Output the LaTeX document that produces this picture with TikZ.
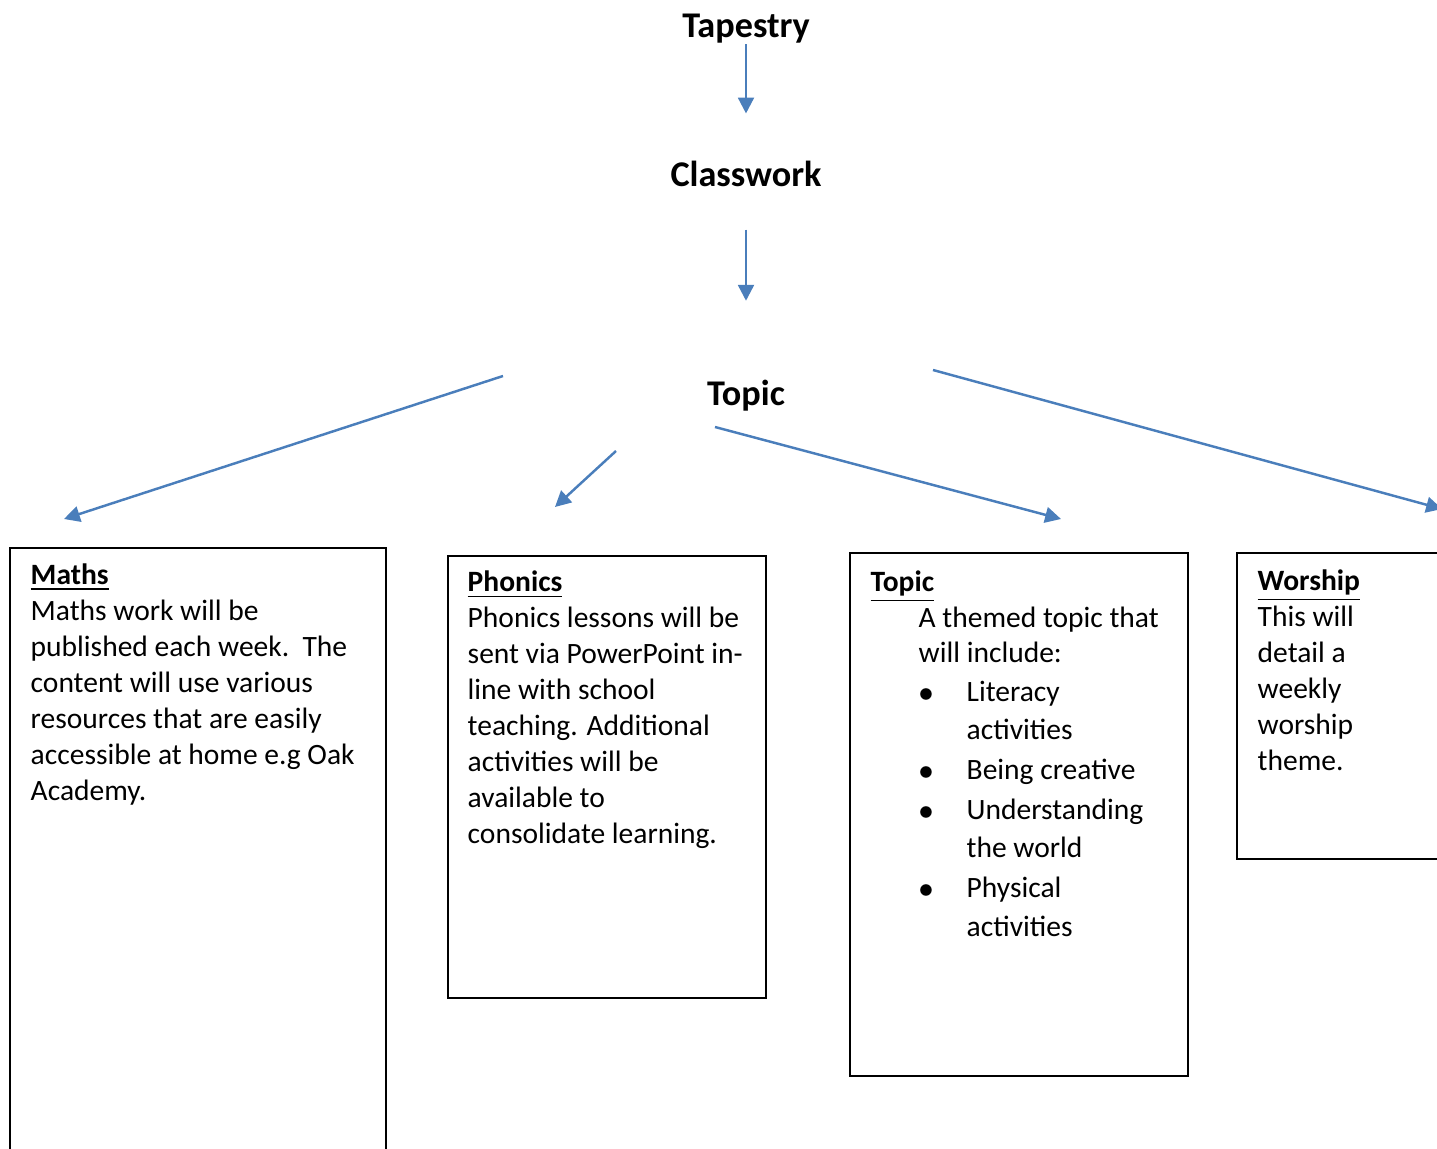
\documentclass[tikz,border=0pt]{standalone}
\usepackage{fontspec}
\setmainfont{Carlito}
\usetikzlibrary{arrows.meta,positioning}
\definecolor{arrblue}{RGB}{74,126,187}

\begin{document}
\begin{tikzpicture}[title/.style={font=\fontsize{10.3}{12}\selectfont\bfseries, inner sep=0pt},
    arr/.style={draw=arrblue, line width=0.7pt, -{Triangle[length=4.5pt,width=4.5pt]}},
    card/.style={draw, line width=0.45pt, inner sep=0pt, anchor=north west},
    txt/.style={font=\fontsize{8.4}{10.24}\selectfont, align=left, anchor=base west, inner sep=0pt}]
    \useasboundingbox (0,0) rectangle (14.37,-11.49);
    \clip (0,0) rectangle (14.37,-11.49);

    \node[title] (tapestry) at (7.46,-0.29) {Tapestry};
    \node[title] (classwork) at (7.46,-1.74) {Classwork};
    \node[title] (topic) at (7.46,-3.96) {Topic};

    \draw[arr, shorten >=0.47cm] (tapestry.south) -- (classwork.north);
    \draw[arr, shorten <=0.42cm, shorten >=0.79cm] (classwork.south) -- (topic.north);

    % boxes under the fan of arrows
    \node[card, minimum width=3.76cm, minimum height=6.4cm] (mathsbox) at (0.09,-5.47) {};
    \node[card, minimum width=3.18cm, minimum height=4.42cm] (phonicsbox) at (4.47,-5.55) {};
    \node[card, minimum width=3.38cm, minimum height=5.23cm] (topicbox) at (8.49,-5.52) {};
    \node[card, minimum width=2.4cm, minimum height=3.06cm] (worshipbox) at (12.36,-5.52) {};

    \coordinate (mathsfrom) at (5.03,-3.76);
    \coordinate (mathsto) at (0.64,-5.19);
    \coordinate (phonicsfrom) at (6.16,-4.51);
    \coordinate (phonicsto) at (5.55,-5.07);
    \coordinate (topicfrom) at (7.15,-4.27);
    \coordinate (topicto) at (10.61,-5.19);
    \coordinate (worshipfrom) at (9.33,-3.70);
    \coordinate (worshipto) at (14.42,-5.09);

    \draw[arr] (mathsfrom) -- (mathsto);
    \draw[arr] (phonicsfrom) -- (phonicsto);
    \draw[arr] (topicfrom) -- (topicto);
    \draw[arr] (worshipfrom) -- (worshipto);

    % texts sit on the baseline of their last line
    \node[txt] (mathstxt) at (0.30,-8.00) {\underline{\textbf{Maths}}\\
      Maths work will be\\
      published each week.\ \ The\\
      content will use various\\
      resources that are easily\\
      accessible at home e.g Oak\\
      Academy.};
    \node[txt] (phonicstxt) at (4.67,-8.43) {\underline{\textbf{Phonics}}\\
      Phonics lessons will be\\
      sent via PowerPoint in-\\
      line with school\\
      teaching. Additional\\
      activities will be\\
      available to\\
      consolidate learning.};
    \node[txt] (topictxt) at (8.70,-9.36) {\underline{\textbf{Topic}}\\
      \hspace*{0.48cm}A themed topic that\\
      \hspace*{0.48cm}will include:\\[0.6pt]
      \hspace*{0.48cm}\makebox[0.48cm][l]{$\bullet$}Literacy\\[0.6pt]
      \hspace*{0.96cm}activities\\[1.2pt]
      \hspace*{0.48cm}\makebox[0.48cm][l]{$\bullet$}Being creative\\[1.2pt]
      \hspace*{0.48cm}\makebox[0.48cm][l]{$\bullet$}Understanding\\[0.6pt]
      \hspace*{0.96cm}the world\\[1.2pt]
      \hspace*{0.48cm}\makebox[0.48cm][l]{$\bullet$}Physical\\[0.6pt]
      \hspace*{0.96cm}activities};
    \node[txt] (worshiptxt) at (12.57,-7.70) {\underline{\textbf{Worship}}\\
      This will\\
      detail a\\
      weekly\\
      worship\\
      theme.};
\end{tikzpicture}
\end{document}
